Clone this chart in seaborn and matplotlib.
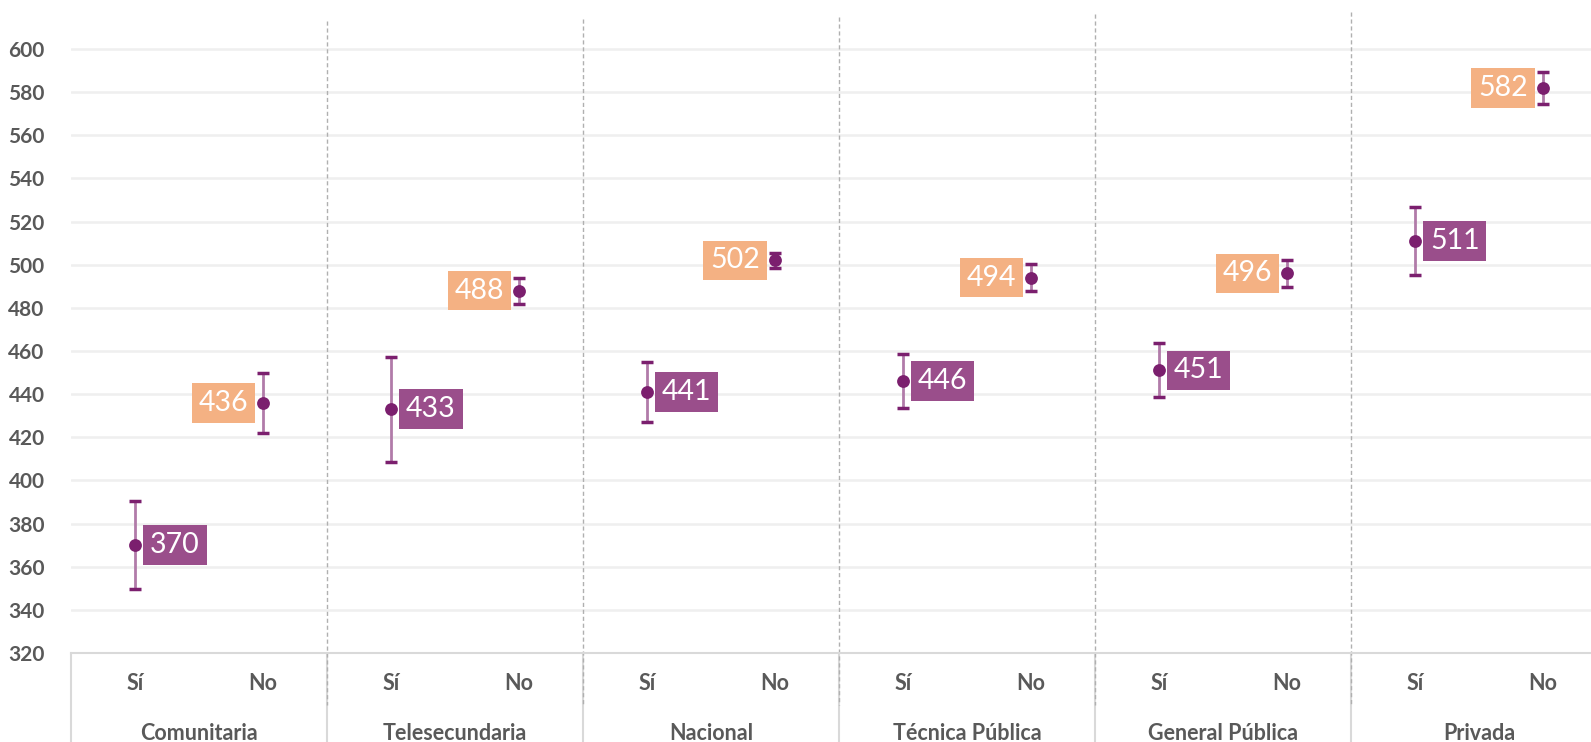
import numpy as np
import pandas as pd
import matplotlib
matplotlib.use("Agg")
import matplotlib.pyplot as plt
import matplotlib.transforms as mtransforms
import seaborn as sns

# data
schools = ["Comunitaria", "Telesecundaria", "Nacional", "Técnica Pública",
           "General Pública", "Privada"]
answers = ["Sí", "No"]
score_si = [370, 433, 441, 446, 451, 511]
score_no = [436, 488, 502, 494, 496, 582]
err_si = [20.5, 24.3, 14.0, 12.4, 12.5, 15.7]
err_no = [14.0, 6.0, 3.5, 6.2, 6.3, 7.4]
yticks = list(range(320, 601, 20))

rows = []
for i, s in enumerate(schools):
    rows.append({"school": s, "answer": "Sí", "score": score_si[i], "err": err_si[i], "x": i * 2 + 0.5})
    rows.append({"school": s, "answer": "No", "score": score_no[i], "err": err_no[i], "x": i * 2 + 1.5})
df = pd.DataFrame(rows)

sns.set_theme(style="white")
plt.rcParams["font.family"] = ["Lato", "DejaVu Sans"]

W, H, DPI = 1591, 742, 100
fig = plt.figure(figsize=(W / DPI, H / DPI), dpi=DPI)
ax_left, ax_bottom_px = 71, 653
ax = fig.add_axes([ax_left / W, (H - ax_bottom_px) / H, 1 - ax_left / W, ax_bottom_px / H])

px_per_unit = 2.157
ax.set_ylim(320, 600 + 49 / px_per_unit)
ax.set_xlim(0, (W - ax_left) / 128)

dark = "#7B1F6E"
grey = "#595959"
ax.errorbar(df["x"], df["score"], yerr=df["err"], fmt="none", ecolor="#B17BA9",
            elinewidth=2, capsize=0, zorder=3)
# caps in darker colour
for _, r in df.iterrows():
    for yy in (r["score"] - r["err"], r["score"] + r["err"]):
        ax.plot([r["x"] - 0.043, r["x"] + 0.043], [yy, yy], color=dark, lw=2.5,
                solid_capstyle="butt", zorder=4)
sns.scatterplot(data=df, x="x", y="score", color=dark, s=85, edgecolor=dark,
                linewidth=0, zorder=5, ax=ax, legend=False)

for _, r in df.iterrows():
    si = r["answer"] == "Sí"
    ax.annotate(f"{r['score']:.0f}", (r["x"], r["score"]), xytext=(15 if si else -15, 0),
                textcoords="offset pixels", ha="left" if si else "right", va="center",
                color="white", fontsize=20.5, zorder=6,
                bbox=dict(boxstyle="square,pad=0.24",
                          fc="#9A4E8B" if si else "#F4B183", ec="none"))

ax.set_yticks(yticks)
ax.set_yticklabels([str(t) for t in yticks], fontsize=15, fontweight="bold", color=grey)
ax.tick_params(axis="y", length=0, pad=19)
ax.set_xticks([])
ax.set_xlabel("")
ax.set_ylabel("")
for t in yticks[1:]:
    ax.axhline(t, color="#EFEFEF", lw=1.8, zorder=0)
for sp in ["top", "right", "left"]:
    ax.spines[sp].set_visible(False)
ax.spines["bottom"].set_color("#D9D9D9")
ax.spines["bottom"].set_linewidth(1.5)

# category axis below plot area
trans = mtransforms.blended_transform_factory(ax.transData, fig.transFigure)
y_px = lambda p: 1 - p / H
for g in range(len(schools) + 1):
    xb = g * 2
    ax.plot([xb, xb], [y_px(ax_bottom_px), 0], color="#D9D9D9", lw=1.5,
            transform=trans, clip_on=False, zorder=1)
    if 0 < g < len(schools):
        top = 21 - (g - 1) * 2.2
        ax.plot([xb, xb], [y_px(top), y_px(705)], color="#B0B0B0", lw=1,
                ls=(0, (3, 2)), transform=trans, clip_on=False, zorder=1)
for i, s in enumerate(schools):
    for j, a in enumerate(answers):
        ax.text(i * 2 + 0.5 + j, y_px(683), a, transform=trans, ha="center", va="center",
                fontsize=15.5, fontweight="bold", color=grey)
    ax.text(i * 2 + 1, y_px(733), s, transform=trans, ha="center", va="center",
            fontsize=15.5, fontweight="bold", color=grey)

fig.savefig("out.png", dpi=DPI)
